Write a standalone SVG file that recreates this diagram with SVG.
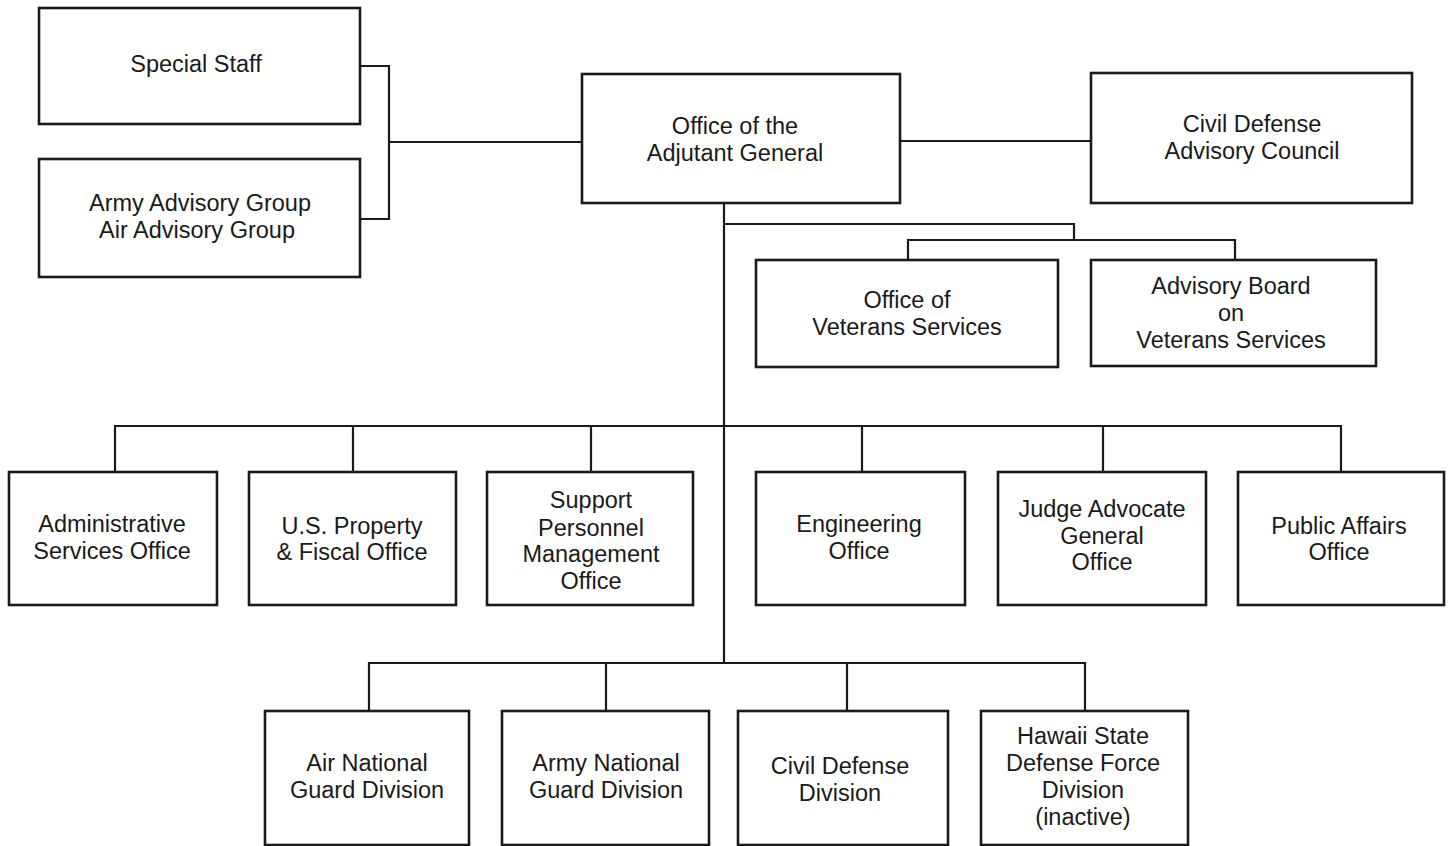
<svg xmlns="http://www.w3.org/2000/svg" width="1450" height="846" viewBox="0 0 1450 846">
<style>
.box{fill:#fff;stroke:#1a1a1a;stroke-width:2.6}
.ln{fill:none;stroke:#1a1a1a;stroke-width:2.2}
text{font-family:"Liberation Sans",Arial,sans-serif;font-size:23.5px;fill:#1a1a1a;text-anchor:middle}
</style>
<rect width="1450" height="846" fill="#fff"/>
<g id="connectors">
<path class="ln" d="M360,66 H389 V219 H360 M389,142 H582"/>
<path class="ln" d="M900,141 H1091"/>
<path class="ln" d="M724,203 V663"/>
<path class="ln" d="M724,224 H1074 V240 M908,260 V240 H1235 V260"/>
<path class="ln" d="M115,472 V426 H1341 V472 M353,426 V472 M591,426 V472 M862,426 V472 M1103,426 V472"/>
<path class="ln" d="M369,711 V663 H1085 V711 M606,663 V711 M847,663 V711"/>
</g>
<g id="special-staff"><rect class="box" x="39" y="8" width="321" height="116"/><text x="196" y="72">Special Staff</text></g>
<g id="advisory-groups"><rect class="box" x="39" y="159" width="321" height="118"/><text x="200" y="211">Army Advisory Group</text><text x="197" y="238">Air Advisory Group</text></g>
<g id="adjutant-general"><rect class="box" x="582" y="74" width="318" height="129"/><text x="735" y="134">Office of the</text><text x="735" y="161">Adjutant General</text></g>
<g id="civil-defense-council"><rect class="box" x="1091" y="73" width="321" height="130"/><text x="1252" y="132">Civil Defense</text><text x="1252" y="159">Advisory Council</text></g>
<g id="veterans-office"><rect class="box" x="756" y="260" width="302" height="107"/><text x="907" y="308">Office of</text><text x="907" y="335">Veterans Services</text></g>
<g id="veterans-board"><rect class="box" x="1091" y="260" width="285" height="106"/><text x="1231" y="294">Advisory Board</text><text x="1231" y="321">on</text><text x="1231" y="348">Veterans Services</text></g>
<g id="admin"><rect class="box" x="9" y="472" width="208" height="133"/><text x="112" y="532">Administrative</text><text x="112" y="559">Services Office</text></g>
<g id="usp"><rect class="box" x="249" y="472" width="207" height="133"/><text x="352" y="534">U.S. Property</text><text x="352" y="560">&amp; Fiscal Office</text></g>
<g id="support"><rect class="box" x="487" y="472" width="206" height="133"/><text x="591" y="508">Support</text><text x="591" y="536">Personnel</text><text x="591" y="562">Management</text><text x="591" y="589">Office</text></g>
<g id="engineering"><rect class="box" x="756" y="472" width="209" height="133"/><text x="859" y="532">Engineering</text><text x="859" y="559">Office</text></g>
<g id="jag"><rect class="box" x="998" y="472" width="208" height="133"/><text x="1102" y="517">Judge Advocate</text><text x="1102" y="544">General</text><text x="1102" y="570">Office</text></g>
<g id="public-affairs"><rect class="box" x="1238" y="472" width="206" height="133"/><text x="1339" y="534">Public Affairs</text><text x="1339" y="560">Office</text></g>
<g id="air-guard"><rect class="box" x="265" y="711" width="204" height="134"/><text x="367" y="771">Air National</text><text x="367" y="798">Guard Division</text></g>
<g id="army-guard"><rect class="box" x="502" y="711" width="207" height="134"/><text x="606" y="771">Army National</text><text x="606" y="798">Guard Division</text></g>
<g id="civil-defense-division"><rect class="box" x="738" y="711" width="210" height="134"/><text x="840" y="774">Civil Defense</text><text x="840" y="801">Division</text></g>
<g id="hawaii-defense-force"><rect class="box" x="981" y="711" width="207" height="134"/><text x="1083" y="744">Hawaii State</text><text x="1083" y="771">Defense Force</text><text x="1083" y="798">Division</text><text x="1083" y="825">(inactive)</text></g>
</svg>
